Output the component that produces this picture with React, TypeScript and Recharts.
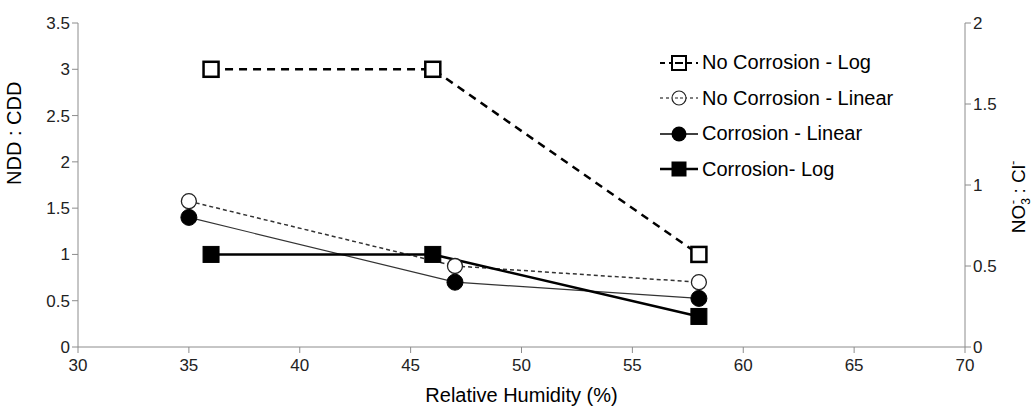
import { LineChart, Line, XAxis, YAxis } from 'recharts';

const logHumidity = [36, 46, 58];
const linearHumidity = [35, 47, 58];
const noCorrosionLog = [3, 3, 1];
const corrosionLog = [1, 1, 0.33];
const noCorrosionLinear = [0.9, 0.5, 0.4];
const corrosionLinear = [0.8, 0.4, 0.3];

const xTicks = [30, 35, 40, 45, 50, 55, 60, 65, 70];
const leftTicks = [0, 0.5, 1, 1.5, 2, 2.5, 3, 3.5];
const rightTicks = [0, 0.5, 1, 1.5, 2];

const legendItems = [
  { name: 'No Corrosion - Log', marker: 'openSquare', dash: '5 4', width: 2 },
  { name: 'No Corrosion - Linear', marker: 'openCircle', dash: '3 3', width: 1.2 },
  { name: 'Corrosion - Linear', marker: 'filledCircle', dash: '', width: 1.5 },
  { name: 'Corrosion- Log', marker: 'filledSquare', dash: '', width: 2.5 }
];

const toPoints = (xs: number[], ys: number[]) => xs.map((x, i) => ({ x, y: ys[i] }));

const font = 'Liberation Sans, Arial, sans-serif';
const axisColor = '#8c8c8c';
const tickStyle = { fill: '#222', fontSize: 17, fontFamily: font };

function Marker({ cx, cy, kind }: { cx: number; cy: number; kind: string }) {
  if (kind === 'openSquare')
    return <rect x={cx - 7.5} y={cy - 7.5} width={15} height={15} fill='#fff' stroke='#000' strokeWidth={2.5} />;
  if (kind === 'filledSquare')
    return <rect x={cx - 8} y={cy - 8} width={16} height={16} fill='#000' stroke='#000' />;
  if (kind === 'openCircle')
    return <circle cx={cx} cy={cy} r={7.5} fill='#fff' stroke='#222' strokeWidth={1.3} />;
  return <circle cx={cx} cy={cy} r={8} fill='#000' stroke='#000' />;
}

const dotFor = (kind: string) => (props: any) =>
  <Marker key={`${kind}-${props.index}`} cx={props.cx} cy={props.cy} kind={kind} />;

function XTick(props: any) {
  const { x, y, payload } = props;
  return (
    <text x={x} y={y + 16} textAnchor='middle' fontFamily={font} fontSize={17} fill='#222'>
      {payload.value}
    </text>
  );
}

function LegendBox() {
  return (
    <div style={{ position: 'absolute', left: 658, top: 45, fontFamily: font, fontSize: 20, color: '#000' }}>
      {legendItems.map(item => (
        <div key={item.name} style={{ display: 'flex', alignItems: 'center', height: 35.5 }}>
          <svg width={42} height={20} style={{ marginRight: 2 }}>
            <line x1={2} y1={10} x2={40} y2={10} stroke='#000' strokeWidth={item.width} strokeDasharray={item.dash} />
            {item.marker === 'openSquare' && <rect x={14} y={3} width={14} height={14} fill='#fff' stroke='#000' strokeWidth={2} />}
            {item.marker === 'openSquare' && <line x1={17} y1={10} x2={25} y2={10} stroke='#000' strokeWidth={2} />}
            {item.marker === 'openCircle' && <circle cx={21} cy={10} r={7} fill='#fff' stroke='#222' strokeWidth={1.2} />}
            {item.marker === 'openCircle' && <line x1={17} y1={10} x2={25} y2={10} stroke='#222' strokeWidth={1.2} strokeDasharray='3 2' />}
            {item.marker === 'filledCircle' && <circle cx={21} cy={10} r={7.5} fill='#000' />}
            {item.marker === 'filledSquare' && <rect x={13.5} y={2.5} width={15} height={15} fill='#000' />}
          </svg>
          <span>{item.name}</span>
        </div>
      ))}
    </div>
  );
}

function RightLabel(props: any) {
  const { viewBox } = props;
  const cx = viewBox.x + viewBox.width - 9;
  const cy = viewBox.y + viewBox.height / 2 + 12;
  return (
    <text transform={`translate(${cx},${cy}) rotate(-90)`} textAnchor='middle' fontFamily={font} fontSize={19} fill='#000'>
      <tspan>NO</tspan>
      <tspan fontSize={12} dy={5}>3</tspan>
      <tspan fontSize={13} dy={-13} dx={-6}>-</tspan>
      <tspan dy={8} dx={1}> : Cl</tspan>
      <tspan fontSize={13} dy={-8}>-</tspan>
    </text>
  );
}

export default function App() {
  return (
    <div style={{ position: 'absolute', left: 0, top: 0, width: 1034, height: 406, background: '#fff' }}>
      <LineChart width={1034} height={406} margin={{ top: 23, right: 0, left: 0, bottom: 0 }}>
        <XAxis
          dataKey='x'
          type='number'
          domain={[30, 70]}
          ticks={xTicks}
          height={59}
          stroke={axisColor}
          tickSize={6}
          tick={<XTick />}
          label={{ value: 'Relative Humidity (%)', position: 'insideBottom', offset: 4, fill: '#000', fontSize: 20, fontFamily: font }}
          allowDuplicatedCategory={false}
        />
        <YAxis
          yAxisId='left'
          domain={[0, 3.5]}
          ticks={leftTicks}
          width={78}
          stroke={axisColor}
          tickSize={6}
          tick={tickStyle}
          label={{ value: 'NDD : CDD', angle: -90, position: 'insideLeft', offset: 14, fill: '#000', fontSize: 20, fontFamily: font }}
        />
        <YAxis
          yAxisId='right'
          orientation='right'
          domain={[0, 2]}
          ticks={rightTicks}
          width={69}
          stroke={axisColor}
          tickSize={6}
          tick={tickStyle}
          label={<RightLabel />}
        />
        <Line
          yAxisId='left'
          data={toPoints(logHumidity, noCorrosionLog)}
          dataKey='y'
          name='No Corrosion - Log'
          stroke='#000'
          strokeWidth={2.5}
          strokeDasharray='8 6'
          dot={dotFor('openSquare')}
          isAnimationActive={false}
        />
        <Line
          yAxisId='right'
          data={toPoints(linearHumidity, noCorrosionLinear)}
          dataKey='y'
          name='No Corrosion - Linear'
          stroke='#333'
          strokeWidth={1.5}
          strokeDasharray='4 3'
          dot={dotFor('openCircle')}
          isAnimationActive={false}
        />
        <Line
          yAxisId='right'
          data={toPoints(linearHumidity, corrosionLinear)}
          dataKey='y'
          name='Corrosion - Linear'
          stroke='#333'
          strokeWidth={1.2}
          dot={dotFor('filledCircle')}
          isAnimationActive={false}
        />
        <Line
          yAxisId='left'
          data={toPoints(logHumidity, corrosionLog)}
          dataKey='y'
          name='Corrosion- Log'
          stroke='#000'
          strokeWidth={2.5}
          dot={dotFor('filledSquare')}
          isAnimationActive={false}
        />
      </LineChart>
      <LegendBox />
    </div>
  );
}
